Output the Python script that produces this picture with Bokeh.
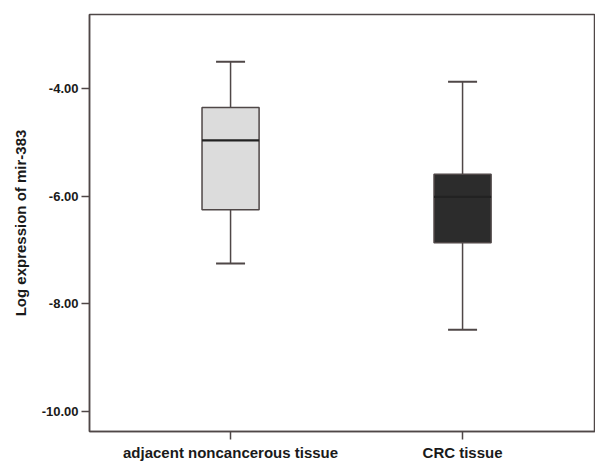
from bokeh.plotting import figure
from bokeh.models import (Range1d, FixedTicker, NumeralTickFormatter,
                          ColumnDataSource, Whisker, TeeHead)
from bokeh.embed import file_html
from bokeh.resources import INLINE

# ---- data ----
categories = ["adjacent noncancerous tissue", "CRC tissue"]
lower_whisker = [-7.25, -8.48]
q1 = [-6.25, -6.86]
median = [-4.96, -6.01]
q3 = [-4.35, -5.59]
upper_whisker = [-3.50, -3.87]
box_colors = ["#dcdcdc", "#2c2c2c"]
y_ticks = [-10.0, -8.0, -6.0, -4.0]

line_col = "#4f4747"
text_col = "#1a1a1a"
font = "Liberation Sans"

xpos = list(range(len(categories)))
src = ColumnDataSource(dict(x=xpos, lo=lower_whisker, q1=q1, med=median,
                            q3=q3, hi=upper_whisker, color=box_colors))

p = figure(x_range=Range1d(-0.608, 1.573),
           y_range=Range1d(-10.37, -2.62),
           width=595, height=463, output_backend="svg", toolbar_location=None,
           min_border_left=89, min_border_top=14, min_border_right=0, min_border_bottom=0)

p.background_fill_color = "white"
p.border_fill_color = "white"
p.outline_line_color = line_col
p.outline_line_width = 1.5
p.xgrid.visible = False
p.ygrid.visible = False

# whiskers with caps (beneath the boxes)
wh = Whisker(source=src, base="x", lower="lo", upper="hi", dimension="height",
             line_color=line_col, line_width=1.5, level="underlay",
             upper_head=TeeHead(size=29, line_color=line_col, line_width=2),
             lower_head=TeeHead(size=29, line_color=line_col, line_width=2))
p.add_layout(wh)

# boxes
p.vbar(x="x", bottom="q1", top="q3", width=0.246, source=src,
       fill_color="color", line_color=line_col, line_width=1.5)
# medians
p.vbar(x="x", bottom="med", top="med", width=0.246, source=src,
       fill_color=None, line_color="#222222", line_width=2.2)

# axes
p.xaxis.ticker = FixedTicker(ticks=xpos)
p.xaxis.major_label_overrides = {i: c for i, c in zip(xpos, categories)}
p.yaxis.ticker = FixedTicker(ticks=y_ticks)
p.yaxis.formatter = NumeralTickFormatter(format="0.00")
p.yaxis.axis_label = "Log expression of mir-383"
p.yaxis.axis_label_text_font = font
p.yaxis.axis_label_text_font_style = "bold"
p.yaxis.axis_label_text_font_size = "15px"
p.yaxis.axis_label_text_color = text_col
p.yaxis.axis_label_standoff = 10
for ax in (p.xaxis[0], p.yaxis[0]):
    ax.axis_line_color = line_col
    ax.axis_line_width = 1.5
    ax.major_tick_line_color = line_col
    ax.major_tick_line_width = 1.5
    ax.major_tick_out = 8
    ax.major_tick_in = 0
    ax.minor_tick_line_color = None
    ax.major_label_text_font = font
    ax.major_label_text_font_style = "bold"
    ax.major_label_text_color = text_col
p.yaxis.major_label_text_font_size = "13px"
p.yaxis.major_label_standoff = 3
p.xaxis.major_label_text_font_size = "15px"
p.xaxis.major_label_standoff = 4

open("out.html", "w").write(file_html(p, INLINE))
